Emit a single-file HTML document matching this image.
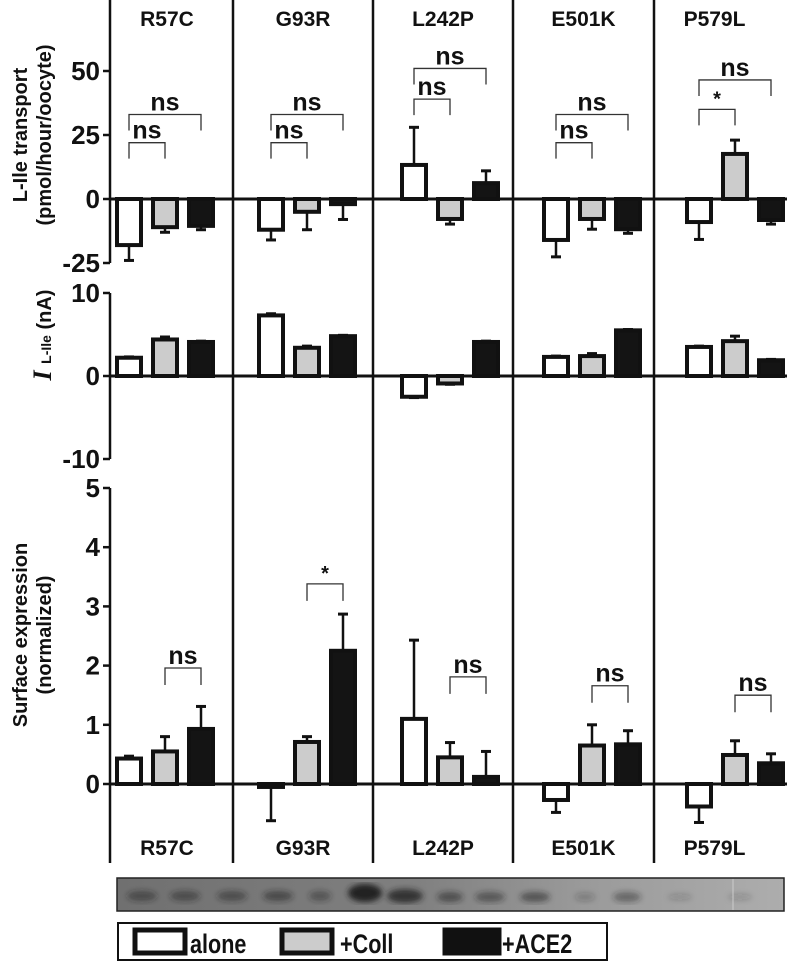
<!DOCTYPE html>
<html><head><meta charset="utf-8"><style>
html,body{margin:0;padding:0;background:#fff;}
svg{display:block;font-family:"Liberation Sans",Arial,sans-serif;}
</style></head><body>
<svg id="chart" width="787" height="962" viewBox="0 0 787 962" xmlns="http://www.w3.org/2000/svg">
<defs>
<linearGradient id="blotbg" x1="0" x2="1" y1="0" y2="0">
<stop offset="0" stop-color="#707070"/><stop offset="0.45" stop-color="#808080"/><stop offset="0.7" stop-color="#9a9a9a"/><stop offset="1" stop-color="#adadad"/>
</linearGradient>
<filter id="blur"><feGaussianBlur stdDeviation="3"/></filter>
</defs>
<g id="g-grid"></g>
<g id="g-axes"></g>
<g id="g-bars"></g>
<g id="g-sig"></g>
<g id="g-text"></g>
<g>
<rect x="117" y="878" width="667" height="33" fill="url(#blotbg)" stroke="#222" stroke-width="1.5"/>
<g filter="url(#blur)" fill="#222">
<ellipse cx="142" cy="896" rx="15" ry="5" opacity="0.5"/>
<ellipse cx="185" cy="896" rx="15" ry="5" opacity="0.5"/>
<ellipse cx="232" cy="896" rx="15" ry="5" opacity="0.5"/>
<ellipse cx="278" cy="896" rx="15" ry="5" opacity="0.55"/>
<ellipse cx="320" cy="896" rx="11" ry="5" opacity="0.45"/>
<ellipse cx="365" cy="893" rx="17" ry="9" opacity="1"/>
<ellipse cx="405" cy="896" rx="18" ry="7" opacity="0.8"/>
<ellipse cx="450" cy="897" rx="13" ry="5" opacity="0.55"/>
<ellipse cx="490" cy="897" rx="15" ry="5" opacity="0.5"/>
<ellipse cx="535" cy="897" rx="15" ry="5" opacity="0.55"/>
<ellipse cx="585" cy="897" rx="10" ry="4" opacity="0.25"/>
<ellipse cx="627" cy="897" rx="14" ry="5" opacity="0.45"/>
<ellipse cx="680" cy="897" rx="12" ry="3" opacity="0.2"/>
<ellipse cx="740" cy="897" rx="12" ry="3" opacity="0.2"/>
</g>
<line x1="733" y1="879" x2="733" y2="910" stroke="#ccc" stroke-width="1"/>
</g>
<g>
<rect x="118" y="923" width="489" height="37" fill="#fff" stroke="#111" stroke-width="2"/>
<g>
<rect x="135" y="930" width="50" height="23" fill="#fff" stroke="#111" stroke-width="5"/>
<text x="190" y="953" font-size="27" font-weight="bold" fill="#111" transform="translate(190 0) scale(0.8 1) translate(-190 0)">alone</text>
</g>
<g>
<rect x="282" y="930" width="50" height="23" fill="#ccc" stroke="#111" stroke-width="5"/>
<text x="340" y="953" font-size="27" font-weight="bold" fill="#111" transform="translate(340 0) scale(0.8 1) translate(-340 0)">+Coll</text>
</g>
<g>
<rect x="445" y="930" width="54" height="23" fill="#111" stroke="#111" stroke-width="5"/>
<text x="502" y="953" font-size="27" font-weight="bold" fill="#111" transform="translate(502 0) scale(0.8 1) translate(-502 0)">+ACE2</text>
</g>
</g>
</svg>
<script>
// ---- data ----
const mutations = ["R57C","G93R","L242P","E501K","P579L"];
const seriesNames = ["alone","coll","ace2"];
// transport (pmol/hour/oocyte), per mutation [alone, coll, ace2]
const transportMean = [[-18,-11,-10.5],[-12,-5,-2],[13.3,-7.8,6.2],[-16,-7.8,-11.8],[-9,17.6,-8.2]];
const transportErr  = [[-24,-13,-12],[-16,-12,-8],[28,-9.8,11],[-22.6,-11.8,-13.4],[-15.8,23,-9.8]];
// current I L-Ile (nA)
const currentMean = [[2.2,4.4,4.1],[7.3,3.4,4.8],[-2.5,-0.9,4.1],[2.3,2.4,5.5],[3.5,4.2,1.9]];
const currentErr  = [[2.3,4.7,4.2],[7.5,3.6,4.9],[-2.6,-1.0,4.2],[2.4,2.7,5.6],[3.6,4.8,2.0]];
// surface expression (normalized)
const surfaceMean = [[0.43,0.55,0.93],[-0.05,0.71,2.25],[1.1,0.45,0.12],[-0.27,0.65,0.67],[-0.38,0.49,0.35]];
const surfaceErr  = [[0.47,0.8,1.31],[-0.62,0.8,2.87],[2.43,0.7,0.55],[-0.48,1.0,0.9],[-0.65,0.73,0.51]];
const transportTicks = [50,25,0,-25];
const currentTicks = [10,0,-10];
const surfaceTicks = [5,4,3,2,1,0];
// significance: [mutation index, from series, to series, label, value level]
const transportSig = [[0,0,1,"ns",22],[0,0,2,"ns",33],[1,0,1,"ns",22],[1,0,2,"ns",33],[2,0,1,"ns",39],[2,0,2,"ns",51],[3,0,1,"ns",22],[3,0,2,"ns",33],[4,0,1,"*",35],[4,0,2,"ns",46.5]];
const surfaceSig = [[0,1,2,"ns",1.96],[1,1,2,"*",3.38],[2,1,2,"ns",1.81],[3,1,2,"ns",1.66],[4,1,2,"ns",1.5]];

// ---- layout ----
const NS="http://www.w3.org/2000/svg";
const panelEdges=[110,233,373,513,654,787];
const barOffset=[5,24,27,29,31];
const barStep=36, barW=28;
const fills={alone:"#fff",coll:"#ccc",ace2:"#141414"};
const yT=v=>199-v*2.56;
const yC=v=>376-v*8.3;
const yS=v=>784-v*59.2;
const barX=(m,s)=>panelEdges[m]+barOffset[m]+s*barStep;

function mk(tag,attrs,parent){const e=document.createElementNS(NS,tag);for(const k in attrs)e.setAttribute(k,attrs[k]);parent.appendChild(e);return e;}
const gGrid=document.getElementById('g-grid'),gAx=document.getElementById('g-axes'),gBars=document.getElementById('g-bars'),gSig=document.getElementById('g-sig'),gTxt=document.getElementById('g-text');

for(let i=1;i<5;i++){
 const l=mk('line',{x1:panelEdges[i],x2:panelEdges[i],y1:0,y2:863,stroke:"#111","stroke-width":2.5},gGrid);
 
 
}
[yT(0),yC(0),yS(0)].forEach(y=>{
 const l=mk('line',{x1:110,x2:787,y1:y,y2:y,stroke:"#111","stroke-width":3},gGrid);
 
 
});
function axis(ticks,fy,y1,y2,name){
 const l=mk('line',{x1:110,x2:110,y1:y1,y2:y2,stroke:"#111","stroke-width":2.5},gAx);
 
 
 ticks.forEach(t=>{
  const y=fy(t);
  const tk=mk('line',{x1:103,x2:110,y1:y,y2:y,stroke:"#111","stroke-width":2.5},gAx);
  
  
  const tx=mk('text',{x:100,y:y+9,"text-anchor":"end","font-size":26,"font-weight":"bold",fill:"#111"},gAx);
  tx.textContent=String(t);
  
  
 });
}
axis(transportTicks,yT,0,yT(-25),'transport-y-axis');
axis(currentTicks,yC,yC(10),yC(-10),'current-y-axis');
axis(surfaceTicks,yS,yS(5),863,'surface-y-axis');

function bars(mean,err,fy,name){
 mean.forEach((row,m)=>row.forEach((v,s)=>{
  const x=barX(m,s),y0=fy(0),y=fy(v);
  const top=Math.min(y0,y),h=Math.abs(y-y0);
  const e=fy(err[m][s]),cx=x+barW/2;
  const ln=mk('line',{x1:cx,x2:cx,y1:y,y2:e,stroke:"#111","stroke-width":2.5},gBars);
  
  
  const cap=mk('line',{x1:cx-5,x2:cx+5,y1:e,y2:e,stroke:"#111","stroke-width":3},gBars);
  
  
  const r=mk('rect',{x:x+2,y:top,width:barW-4,height:Math.max(h,1),fill:fills[seriesNames[s]],stroke:"#111","stroke-width":4},gBars);
  
  
 }));
}
bars(transportMean,transportErr,yT,'transport');
bars(currentMean,currentErr,yC,'current');
bars(surfaceMean,surfaceErr,yS,'surface');

function sig(list,fy,leg){
 list.forEach(([m,a,b,lab,lv])=>{
  const x1=barX(m,a)+barW/2,x2=barX(m,b)+barW/2,y=fy(lv);
  const p=mk('path',{d:`M${x1},${y+leg}V${y}H${x2}V${y+leg}`,fill:"none",stroke:"#333","stroke-width":1.3},gSig);
  
  
  const t=mk('text',{x:(x1+x2)/2,y:y-4,"text-anchor":"middle","font-size":lab==="*"?20:25,"font-weight":"bold",fill:"#111"},gSig);
  t.textContent=lab;
  
  
 });
}
sig(transportSig,yT,16);
sig(surfaceSig,yS,17);

mutations.forEach((mu,i)=>{
 const cx=(i===0?167:(panelEdges[i]+panelEdges[i+1])/2+(i===4?-6:0));
 [[26,'top'],[855,'bottom']].forEach(([y,pos])=>{
  const t=mk('text',{x:cx,y:y,"text-anchor":"middle","font-size":21,"font-weight":"bold",fill:"#111"},gTxt);
  t.textContent=mu;
  
  
 });
});
function ytitle(lines,cy,xs,name){
 lines.forEach((ln,i)=>{
  const t=mk('text',{x:xs[i],y:cy,"text-anchor":"middle","font-size":20,"font-weight":"bold",fill:"#111",transform:`rotate(-90 ${xs[i]} ${cy})`},gTxt);
  t.textContent=ln;
  
  
 });
}
ytitle(["L-Ile transport","(pmol/hour/oocyte)"],135,[27,51],'transport-y-axis-title');
ytitle(["Surface expression","(normalized)"],635,[27,51],'surface-y-axis-title');
(function(){
 const t=mk('text',{x:51,y:335,"text-anchor":"middle","font-size":20,"font-weight":"bold",fill:"#111",transform:"rotate(-90 51 335)"},gTxt);
 
 
 const a=document.createElementNS(NS,'tspan');a.setAttribute('font-family','"Liberation Serif",serif');a.setAttribute('font-style','italic');a.setAttribute('font-size','26');a.textContent='I ';
 const b=document.createElementNS(NS,'tspan');b.setAttribute('font-size','14');b.textContent='L-Ile';
 const c=document.createElementNS(NS,'tspan');c.textContent=' (nA)';
 t.appendChild(a);t.appendChild(b);t.appendChild(c);
})();
</script>
</body></html>
